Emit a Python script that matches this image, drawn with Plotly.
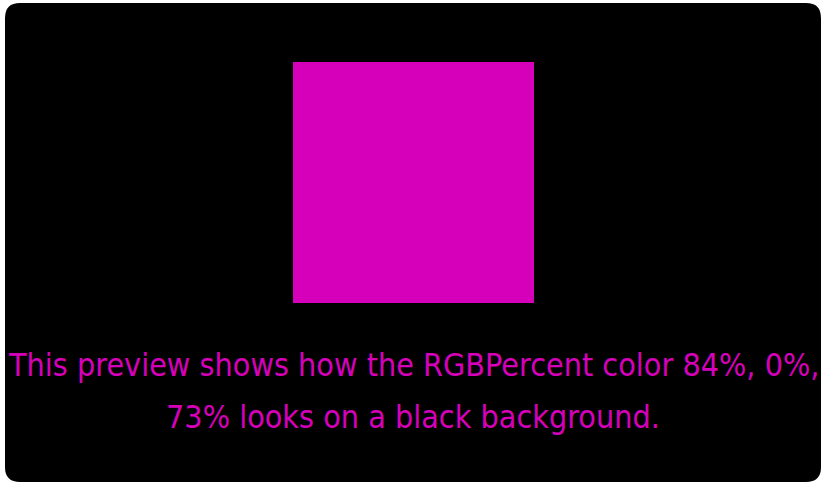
import plotly.graph_objects as go

W, H = 821, 483
rgb_percent = [84, 0, 73]
lines = ["This preview shows how the RGBPercent color 84%, 0%,",
         "73% looks on a black background."]

r, g, b = [round(p * 255 / 100) for p in rgb_percent]
color = f"rgb({r},{g},{b})"

fig = go.Figure()
# invisible trace to set up axes
fig.add_trace(go.Scatter(x=[0, W], y=[0, H], mode="markers", marker=dict(opacity=0), hoverinfo="skip", showlegend=False))

x0, y0, x1, y1, rad = 5, 3, 821, 482, 15
path = (f"M {x0+rad},{y0} L {x1-rad},{y0} Q {x1},{y0} {x1},{y0+rad} "
        f"L {x1},{y1-rad} Q {x1},{y1} {x1-rad},{y1} L {x0+rad},{y1} "
        f"Q {x0},{y1} {x0},{y1-rad} L {x0},{y0+rad} Q {x0},{y0} {x0+rad},{y0} Z")
fig.add_shape(type="path", path=path, fillcolor="black", line=dict(width=0), layer="below")
fig.add_shape(type="rect", x0=293, x1=534, y0=62, y1=303, fillcolor=color, line=dict(width=0))

for i, t in enumerate(lines):
    fig.add_annotation(x=413, y=365 + 52 * i, text=t, showarrow=False, xanchor="center", yanchor="middle",
                       font=dict(family="DejaVu Sans Condensed", size=32, color=color))

fig.update_layout(width=W, height=H, margin=dict(l=0, r=0, t=0, b=0),
                  paper_bgcolor="white", plot_bgcolor="white",
                  xaxis=dict(range=[0, W], visible=False, fixedrange=True),
                  yaxis=dict(range=[H, 0], visible=False, fixedrange=True))
fig.write_html("out.html", config={"displayModeBar": False},
               post_script="document.body.style.margin='0';document.body.style.overflow='hidden';")
